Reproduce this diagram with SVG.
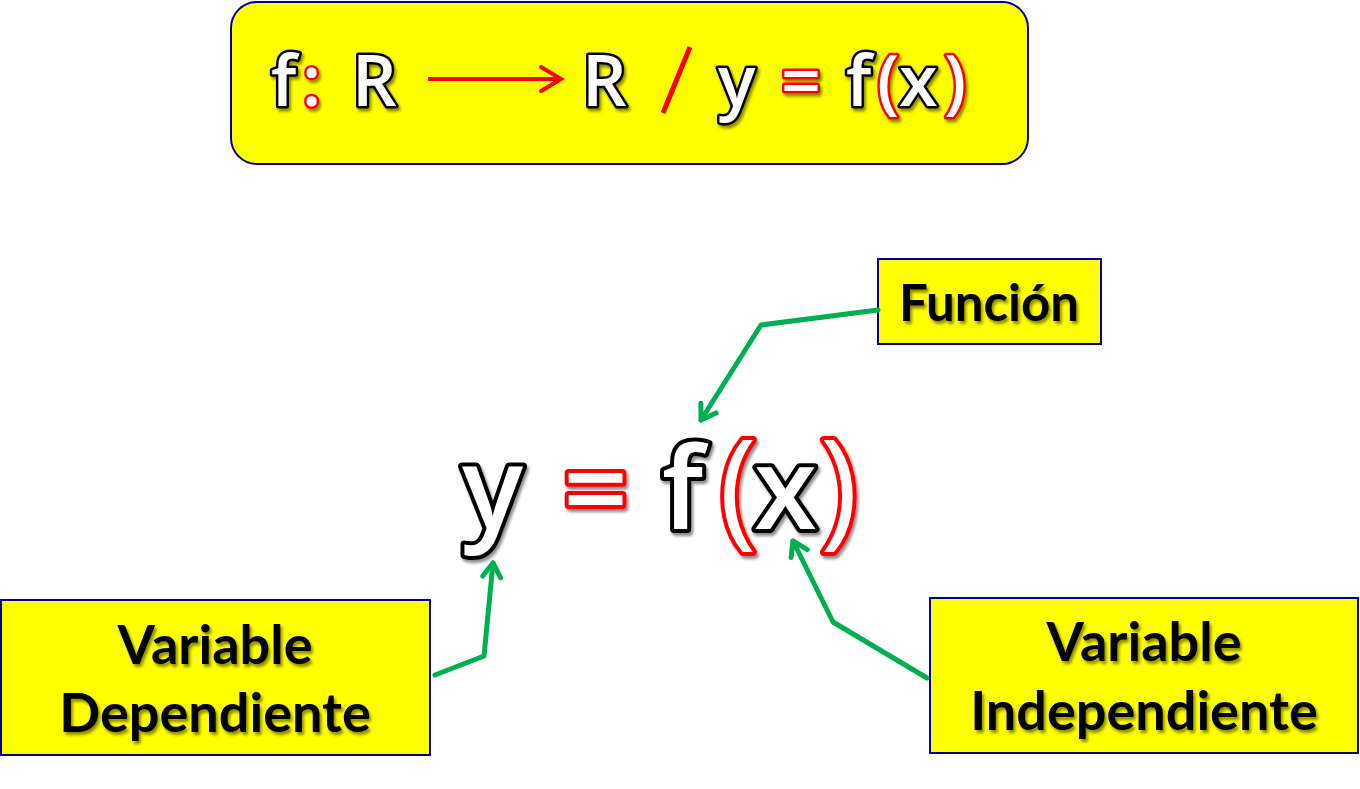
<svg xmlns="http://www.w3.org/2000/svg" width="1360" height="789" viewBox="0 0 1360 789">
<defs>
<filter id="sh" x="-10%" y="-10%" width="130%" height="140%">
<feDropShadow dx="2" dy="3" stdDeviation="1.5" flood-color="#000" flood-opacity="0.45"/>
</filter>
<marker id="ah" markerUnits="userSpaceOnUse" markerWidth="30" markerHeight="30" refX="0" refY="0" viewBox="-20 -15 25 30" orient="auto" overflow="visible">
<path d="M-14,-9 L0,0 L-14,9" fill="none" stroke="#00B050" stroke-width="5" stroke-linecap="round" stroke-linejoin="round"/>
</marker>
</defs>
<style>
.box{fill:#FFFF00;stroke:#00009B;stroke-width:2}
.lbl{font-family:Lato,"Noto Sans",sans-serif;font-weight:700;fill:#000;text-anchor:middle}
.out{font-family:"Open Sans","Noto Sans",sans-serif;font-weight:600;fill:#fff;stroke:#000;paint-order:stroke;stroke-linejoin:round}
.red{stroke:#FF0000}
.t{font-size:70px;stroke-width:5}
.m{font-size:114px;stroke-width:8}
.p{font-size:128px;font-weight:400}
.con{fill:none;stroke:#00B050;stroke-width:5;stroke-linecap:round;stroke-linejoin:round}
</style>
<rect width="1360" height="789" fill="#fff"/>
<g id="header">
<rect class="box" x="231" y="2" width="797" height="162" rx="26"/>
<g filter="url(#sh)">
<text class="out t" x="271" y="106">f</text>
<text class="out t red" x="302" y="106">:</text>
<text class="out t" x="352" y="106">R</text>
<text class="out t" x="582" y="106">R</text>
<text class="out t" x="718" y="106">y</text>
<text class="out t red" x="781" y="106">=</text>
<text class="out t" x="846" y="106">f</text>
<text class="out t red" x="877" y="106">(</text>
<text class="out t" x="899" y="106">x</text>
<text class="out t red" x="944" y="106">)</text>
</g>
<line x1="428" y1="79" x2="560" y2="79" stroke="#FF0000" stroke-width="4"/>
<path d="M541,67 L561,79 L541,91" fill="none" stroke="#FF0000" stroke-width="4" stroke-linecap="round"/>
<line x1="663" y1="113" x2="690" y2="47" stroke="#FF0000" stroke-width="5"/>
</g>
<g id="formula" filter="url(#sh)">
<text class="out m" x="462" y="529">y</text>
<text class="out m red" x="563" y="529">=</text>
<text class="out m" x="662" y="529">f</text>
<text class="out m red p" x="719" y="532">(</text>
<text class="out m" x="754" y="529">x</text>
<text class="out m red p" x="820" y="532">)</text>
</g>
<g id="funcion">
<rect class="box" x="878" y="259" width="223" height="85"/>
<text class="lbl" x="989" y="321" font-size="51" filter="url(#sh)">Función</text>
</g>
<g id="var-dep">
<rect class="box" x="1" y="600" width="429" height="155"/>
<g filter="url(#sh)">
<text class="lbl" x="215" y="664" font-size="54">Variable</text>
<text class="lbl" x="215" y="732" font-size="54">Dependiente</text>
</g>
</g>
<g id="var-indep">
<rect class="box" x="930" y="598" width="428" height="155"/>
<g filter="url(#sh)">
<text class="lbl" x="1144" y="661" font-size="54">Variable</text>
<text class="lbl" x="1144" y="730" font-size="54">Independiente</text>
</g>
</g>
<g id="connectors">
<path class="con" d="M878,310 L761,325 L701,420" marker-end="url(#ah)"/>
<path class="con" d="M435,675 L484,656 L493,563" marker-end="url(#ah)"/>
<path class="con" d="M927,678 L833,622 L793,541" marker-end="url(#ah)"/>
</g>
</svg>
